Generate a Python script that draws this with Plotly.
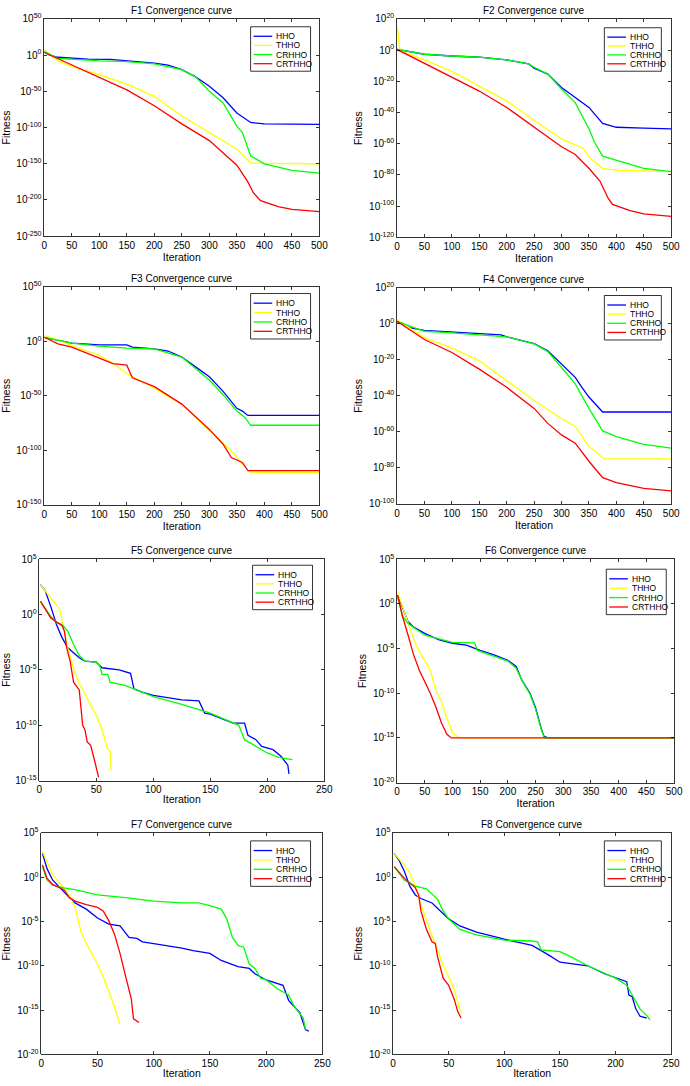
import numpy as np
import plotly.graph_objects as go

# ---------------- data (iteration, log10 fitness) ----------------
series_names = ["HHO", "THHO", "CRHHO", "CRTHHO"]
series_colors = ["#0000ff", "#ffff00", "#00ff00", "#ff0000"]

# F1
f1_hho_it = [0, 10, 25, 50, 80, 120, 150, 200, 225, 250, 275, 300, 325, 350, 375, 400, 450, 500]
f1_hho_lg = [4.5, 0, -3, -4.5, -5.5, -6, -7.5, -11, -14, -20, -30, -43, -59, -80, -93, -95, -95.3, -95.5]
f1_thho_it = [0, 25, 50, 100, 150, 200, 250, 300, 350, 375, 400, 500]
f1_thho_lg = [7, -8, -16, -27, -40, -57, -84, -107, -130, -149, -149.5, -150]
f1_crhho_it = [0, 25, 100, 150, 200, 250, 275, 300, 325, 350, 360, 375, 400, 450, 500]
f1_crhho_lg = [5, -4.5, -8, -9, -12, -20, -30, -50, -66, -98, -107, -139, -150, -159, -163]
f1_crthho_it = [0, 50, 100, 150, 200, 250, 300, 350, 370, 380, 393, 425, 450, 500]
f1_crthho_lg = [3.6, -13.6, -30, -48, -70, -95, -118, -152, -175, -190, -201, -209, -213, -216]

# F2
f2_hho_it = [0, 50, 100, 150, 200, 240, 250, 275, 300, 325, 350, 375, 400, 450, 500]
f2_hho_lg = [0.4, -2.7, -3.8, -4.6, -6.3, -8.8, -11.6, -15.4, -24, -30.5, -36.8, -47, -49.5, -50, -50.5]
f2_thho_it = [0, 1, 3, 5, 10, 50, 100, 150, 200, 250, 300, 340, 350, 375, 400, 500]
f2_thho_lg = [14, 14, 6, 1, -1, -6.3, -13.7, -23, -32.6, -45, -57, -63, -68.4, -76, -77, -78]
f2_crhho_it = [0, 50, 100, 150, 200, 240, 250, 275, 300, 325, 350, 360, 375, 400, 450, 500]
f2_crhho_lg = [0.4, -2.7, -3.8, -4.6, -6.3, -8.8, -11, -15.4, -25, -33.7, -50.5, -59, -68, -70.5, -75.8, -78]
f2_crthho_it = [0, 50, 100, 150, 200, 250, 300, 325, 350, 370, 385, 393, 425, 450, 500]
f2_crthho_lg = [0.4, -8.4, -17.3, -26.3, -36.8, -49.5, -62, -67, -75.8, -84, -95, -99, -103, -105, -106.7]

# F3
f3_hho_it = [0, 25, 50, 100, 150, 160, 200, 225, 250, 275, 300, 325, 350, 360, 370, 500]
f3_hho_lg = [3.6, 1.2, -1.8, -3.3, -3.3, -5.4, -7, -9, -14.5, -23.5, -32.6, -46, -61.5, -64, -68, -68]
f3_thho_it = [0, 25, 50, 100, 125, 150, 200, 250, 300, 325, 340, 360, 375, 500]
f3_thho_lg = [5, 1.2, -4, -13, -20.5, -29.6, -43, -58, -81.7, -93, -100.5, -112.6, -120, -120.4]
f3_crhho_it = [0, 50, 100, 150, 200, 250, 275, 300, 325, 350, 365, 375, 500]
f3_crhho_lg = [3.6, -1.8, -4.5, -6.3, -7, -14.5, -25, -35.6, -49, -64, -70, -77, -77]
f3_crthho_it = [0, 25, 50, 100, 125, 150, 160, 200, 250, 300, 325, 340, 360, 370, 500]
f3_crthho_lg = [3.6, -2.4, -5.4, -15.4, -20.5, -22, -33.5, -41.6, -57.6, -80.8, -94.4, -106.5, -111, -118.6, -118.6]

# F4
f4_hho_it = [0, 25, 50, 100, 150, 190, 200, 250, 275, 300, 325, 335, 350, 375, 500]
f4_hho_lg = [1.3, -2.4, -3.7, -4.7, -5.5, -6.2, -7.3, -11, -15, -22.5, -29.8, -34.3, -40.7, -49, -49]
f4_thho_it = [0, 50, 100, 150, 200, 250, 300, 325, 350, 378, 500]
f4_thho_lg = [2.2, -7.9, -13.4, -20.6, -31.6, -42.6, -52.6, -57, -68, -75, -75]
f4_crhho_it = [0, 50, 100, 150, 200, 250, 275, 300, 325, 350, 375, 400, 450, 500]
f4_crhho_lg = [1.3, -4.2, -5.1, -6, -7.3, -11.2, -15.5, -24.3, -33.4, -47, -59.5, -62.6, -67, -69]
f4_crthho_it = [0, 50, 100, 150, 200, 250, 275, 300, 325, 350, 375, 400, 450, 500]
f4_crthho_lg = [1.3, -8.8, -16, -25.2, -35.3, -47, -55.3, -61.7, -66.3, -76.3, -85.4, -88.2, -91.3, -92.7]

# F5
f5_hho_it = [1, 5, 10, 15, 20, 25, 35, 40, 50, 55, 70, 80, 83, 90, 100, 125, 140, 145, 150, 170, 180, 183, 190, 195, 205, 212, 218, 219]
f5_hho_lg = [2.7, 2.2, 0.75, -0.9, -2.1, -3, -3.9, -4.2, -4.3, -4.8, -5, -5.3, -6.7, -7, -7.3, -7.7, -7.8, -8.9, -9, -9.8, -9.8, -10.9, -11.3, -11.9, -12.2, -12.8, -13.6, -14.4]
f5_thho_it = [1, 10, 18, 20, 25, 30, 35, 40, 45, 50, 55, 60, 62, 63]
f5_thho_lg = [2.7, 1.5, 0.45, -0.6, -3, -4.9, -6.25, -7.1, -8.2, -9.1, -10.4, -12.2, -12.3, -14.1]
f5_crhho_it = [1, 10, 15, 20, 25, 30, 35, 40, 50, 53, 55, 60, 62, 75, 85, 100, 125, 150, 175, 180, 200, 210, 222]
f5_crhho_lg = [1.2, -0.15, -0.7, -0.9, -1.5, -2.7, -3.7, -4.2, -4.3, -4.6, -5.4, -5.4, -6.1, -6.4, -6.8, -7.4, -8.1, -8.9, -10, -11.3, -12.5, -12.9, -13.1]
f5_crthho_it = [1, 10, 20, 22, 24, 27, 30, 35, 38, 40, 42, 45, 48, 52]
f5_crthho_lg = [1.2, -0.3, -1, -1.5, -3, -4.2, -6.1, -6.8, -10, -10.4, -11.5, -11.8, -13, -14.7]

# F6
f6_hho_it = [1, 10, 20, 30, 50, 75, 100, 125, 150, 175, 200, 215, 225, 240, 250, 260, 265, 272, 500]
f6_hho_lg = [1, -0.5, -2, -2.6, -3.3, -4, -4.4, -4.6, -5.2, -5.7, -6.3, -7, -8.5, -10, -11.6, -13.9, -14.8, -15, -15]
f6_thho_it = [1, 10, 20, 30, 40, 50, 60, 70, 80, 90, 100, 110, 120, 500]
f6_thho_lg = [1.3, -0.3, -2, -3.9, -5.3, -6.3, -7.4, -9.6, -10.9, -12.8, -14.4, -14.9, -15, -15]
f6_crhho_it = [1, 10, 20, 50, 100, 125, 140, 145, 175, 200, 215, 225, 240, 250, 260, 266, 500]
f6_crhho_lg = [0.8, -1.4, -2.2, -3.5, -4.3, -4.3, -4.35, -5.2, -5.9, -6.4, -7.2, -8.5, -10.1, -11.8, -14, -15, -15]
f6_crthho_it = [1, 10, 20, 30, 40, 50, 60, 70, 80, 90, 98, 500]
f6_crthho_lg = [1, -1.4, -3.5, -5.7, -7.4, -8.7, -10, -11.5, -13.3, -14.6, -15, -15]

# F7
f7_hho_it = [1, 5, 10, 15, 20, 25, 30, 40, 50, 60, 70, 78, 85, 90, 100, 125, 135, 150, 160, 175, 185, 190, 200, 215, 220, 230, 235, 238]
f7_hho_lg = [2.7, 1, -0.3, -1, -1.6, -2.3, -2.9, -3.6, -4.6, -5.3, -5.5, -6.8, -6.9, -7.3, -7.5, -8, -8.3, -8.6, -9.4, -10.1, -10.3, -10.9, -11.6, -12.2, -13.9, -15.3, -17.2, -17.4]
f7_thho_it = [1, 10, 20, 25, 30, 35, 40, 50, 55, 60, 65, 70]
f7_thho_lg = [2.9, 0.3, -1.2, -2.1, -3.4, -6, -7.5, -9.8, -11.2, -12.9, -14.6, -16.6]
f7_crhho_it = [1, 5, 10, 20, 30, 50, 75, 100, 125, 140, 150, 160, 165, 170, 175, 180, 185, 190, 195, 200, 210, 220, 225, 233, 235]
f7_crhho_lg = [1.2, -0.3, -0.9, -1.2, -1.4, -2, -2.3, -2.7, -2.9, -2.9, -3.2, -3.6, -4.7, -6.8, -7.7, -7.9, -9.8, -10.3, -11.4, -11.6, -12.6, -13.3, -14.6, -15.9, -17.2]
f7_crthho_it = [1, 5, 10, 20, 25, 30, 40, 50, 55, 60, 65, 70, 75, 80, 82, 87]
f7_crthho_lg = [1.4, -0.1, -0.8, -1.4, -2.3, -2.7, -3.1, -3.4, -3.8, -4.9, -6.4, -8.6, -11.2, -13.7, -16, -16.4]

# F8
f8_hho_it = [1, 5, 10, 15, 20, 25, 35, 40, 50, 60, 75, 100, 125, 140, 150, 175, 190, 210, 212, 215, 218, 222, 228]
f8_hho_lg = [2.7, 2, 0.7, -1, -2, -2.4, -2.9, -3.5, -4.7, -5.5, -6.2, -7, -7.7, -8.8, -9.6, -10, -10.9, -11.8, -13.3, -13.5, -14.8, -15.7, -15.9]
f8_thho_it = [1, 10, 15, 20, 25, 30, 35, 40, 45, 50, 55, 60, 62]
f8_thho_lg = [2.7, 1.4, 0.5, -1, -3.1, -4.9, -6.6, -8.2, -10, -11.2, -12.7, -15, -15.3]
f8_crhho_it = [1, 10, 20, 30, 40, 45, 50, 60, 75, 100, 125, 130, 133, 150, 160, 175, 200, 210, 215, 222, 228, 231]
f8_crhho_lg = [1.2, -0.3, -1, -1.3, -2.5, -3.8, -4.7, -5.9, -6.5, -7.1, -7.2, -7.3, -8.2, -8.4, -9, -10, -11.4, -12.2, -13.3, -14.9, -15.6, -16.1]
f8_crthho_it = [1, 10, 20, 23, 25, 30, 35, 38, 40, 45, 50, 55, 58, 61]
f8_crthho_lg = [1.2, -0.1, -1.2, -2, -3.8, -5.9, -7.3, -7.5, -9, -11.4, -12.2, -13.8, -15.1, -15.9]

panel_titles = ["F1 Convergence curve", "F2 Convergence curve", "F3 Convergence curve", "F4 Convergence curve",
                "F5 Convergence curve", "F6 Convergence curve", "F7 Convergence curve", "F8 Convergence curve"]
y_exp_top = [50, 20, 50, 20, 5, 5, 5, 5]
y_exp_bottom = [-250, -120, -150, -100, -15, -20, -20, -20]
y_exp_step = [50, 20, 50, 20, 5, 5, 5, 5]
x_max = [500, 500, 500, 500, 250, 500, 250, 250]
x_step = [50, 50, 50, 50, 50, 50, 50, 50]

panel_data = [
    [(f1_hho_it, f1_hho_lg), (f1_thho_it, f1_thho_lg), (f1_crhho_it, f1_crhho_lg), (f1_crthho_it, f1_crthho_lg)],
    [(f2_hho_it, f2_hho_lg), (f2_thho_it, f2_thho_lg), (f2_crhho_it, f2_crhho_lg), (f2_crthho_it, f2_crthho_lg)],
    [(f3_hho_it, f3_hho_lg), (f3_thho_it, f3_thho_lg), (f3_crhho_it, f3_crhho_lg), (f3_crthho_it, f3_crthho_lg)],
    [(f4_hho_it, f4_hho_lg), (f4_thho_it, f4_thho_lg), (f4_crhho_it, f4_crhho_lg), (f4_crthho_it, f4_crthho_lg)],
    [(f5_hho_it, f5_hho_lg), (f5_thho_it, f5_thho_lg), (f5_crhho_it, f5_crhho_lg), (f5_crthho_it, f5_crthho_lg)],
    [(f6_hho_it, f6_hho_lg), (f6_thho_it, f6_thho_lg), (f6_crhho_it, f6_crhho_lg), (f6_crthho_it, f6_crthho_lg)],
    [(f7_hho_it, f7_hho_lg), (f7_thho_it, f7_thho_lg), (f7_crhho_it, f7_crhho_lg), (f7_crthho_it, f7_crthho_lg)],
    [(f8_hho_it, f8_hho_lg), (f8_thho_it, f8_thho_lg), (f8_crhho_it, f8_crhho_lg), (f8_crthho_it, f8_crthho_lg)],
]

# ---------------- layout geometry (pixels) ----------------
W, H = 690, 1086
axes_px = [  # left, right, top, bottom
    (42, 322, 12, 232), (401, 680, 12, 233),
    (42, 322, 283, 504), (401, 680, 284, 503),
    (37, 327, 559, 783), (401, 683, 559, 785),
    (39, 325, 836, 1060), (397, 680, 836, 1060),
]
legend_px = [  # left, right, top, bottom
    (252, 313, 20, 65), (612, 670, 21, 65), (252, 313, 290, 336), (612, 670, 292, 337),
    (254, 315, 565, 610), (614, 675, 569, 615), (252, 313, 844, 890), (612, 670, 844, 890),
]

FONT = "Liberation Sans, Arial, sans-serif"
fig = go.Figure()
shapes, annotations = [], []
layout = dict(
    width=W, height=H, margin=dict(l=0, r=0, t=0, b=0),
    paper_bgcolor="white", plot_bgcolor="white",
    font=dict(family=FONT, size=10, color="black"),
    showlegend=False,
)

def px_x(v):
    return v / W

def px_y(v):
    return 1 - v / H

for p in range(8):
    n = p + 1
    xa = "x" if n == 1 else f"x{n}"
    ya = "y" if n == 1 else f"y{n}"
    for s in range(4):
        it, lgv = panel_data[p][s]
        fig.add_trace(go.Scatter(
            x=it, y=10.0 ** np.array(lgv, dtype=float), mode="lines",
            name=series_names[s], line=dict(color=series_colors[s], width=1.3),
            xaxis=xa, yaxis=ya, hoverinfo="skip",
        ))
    l, r, t, b = axes_px[p]
    exps = list(range(y_exp_top[p], y_exp_bottom[p] - 1, -y_exp_step[p]))
    layout["xaxis" if n == 1 else f"xaxis{n}"] = dict(
        domain=[px_x(l), px_x(r)], anchor=ya, range=[0, x_max[p]],
        tickvals=list(range(0, x_max[p] + 1, x_step[p])),
        ticks="inside", ticklen=3, tickwidth=0.8, tickcolor="black",
        showline=True, linecolor="black", linewidth=0.8, mirror="ticks",
        showgrid=False, zeroline=False,
        tickfont=dict(size=10, family=FONT),
        title=dict(text="Iteration", font=dict(size=10.5, family=FONT), standoff=1),
    )
    layout["yaxis" if n == 1 else f"yaxis{n}"] = dict(
        domain=[px_y(b), px_y(t)], anchor=xa, type="log",
        range=[y_exp_bottom[p], y_exp_top[p]],
        tickvals=[10.0 ** e for e in exps],
        ticktext=[f"10<sup>{e}</sup>" for e in exps],
        ticks="inside", ticklen=3, tickwidth=0.8, tickcolor="black",
        showline=True, linecolor="black", linewidth=0.8, mirror="ticks",
        showgrid=False, zeroline=False,
        tickfont=dict(size=10, family=FONT),
        title=dict(text="Fitness", font=dict(size=10.5, family=FONT), standoff=4),
    )
    annotations.append(dict(
        text=panel_titles[p], x=px_x((l + r) / 2), y=px_y(t - 1),
        xref="paper", yref="paper", xanchor="center", yanchor="bottom",
        showarrow=False, font=dict(size=10, family=FONT),
    ))
    # legend box drawn in paper space
    gl, gr, gt, gb = legend_px[p]
    shapes.append(dict(type="rect", xref="paper", yref="paper",
                       x0=px_x(gl), x1=px_x(gr), y0=px_y(gb), y1=px_y(gt),
                       line=dict(color="black", width=0.8), fillcolor="white", layer="above"))
    row_h = (gb - gt - 8) / 4.0
    for s in range(4):
        cy = gt + 5 + row_h * (s + 0.5)
        shapes.append(dict(type="line", xref="paper", yref="paper",
                           x0=px_x(gl + 3), x1=px_x(gl + 22), y0=px_y(cy), y1=px_y(cy),
                           line=dict(color=series_colors[s], width=1.3), layer="above"))
        annotations.append(dict(
            text=series_names[s], x=px_x(gl + 24), y=px_y(cy),
            xref="paper", yref="paper", xanchor="left", yanchor="middle",
            showarrow=False, font=dict(size=8.5, family=FONT),
        ))

layout["shapes"] = shapes
layout["annotations"] = annotations
fig.update_layout(**layout)
fig.write_html("out.html", config={"displayModeBar": False, "staticPlot": True},
               post_script="document.body.style.margin='0px';document.body.style.overflow='hidden';")
